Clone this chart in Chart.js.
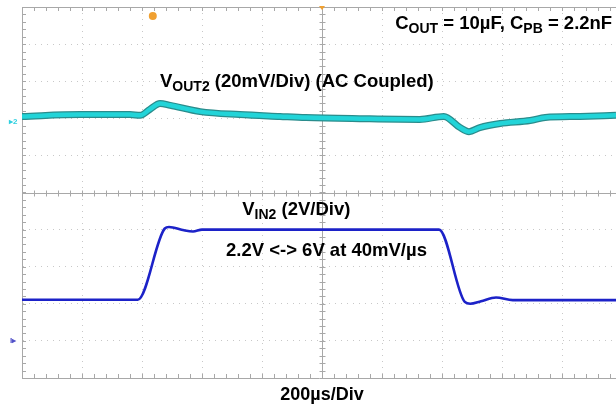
<!DOCTYPE html>
<html>
<head>
<meta charset="utf-8">
<script src="https://cdn.jsdelivr.net/npm/chart.js@4/dist/chart.umd.min.js"></script>
<style>
  html, body { margin: 0; padding: 0; background: #fff; overflow: hidden; }
  #wrap { width: 616px; height: 405px; position: relative; }
</style>
</head>
<body>
<div id="wrap"><canvas id="scope" width="616" height="405"></canvas></div>
<script>
// ──────────────── data (time in divisions, 200µs/div; amplitude in divisions) ────────────────
const voutTime = [0, 0.97, 1.8, 1.97, 2.13, 2.3, 2.47, 2.97, 3.63, 4.3, 4.73, 5.63, 6.63, 7.03, 7.3, 7.45, 7.63, 7.97, 8.47, 8.72, 9.3, 9.9];
const voutDiv  = [2.05, 2.10, 2.10, 2.08, 2.24, 2.40, 2.35, 2.18, 2.10, 2.05, 2.02, 1.99, 1.97, 2.05, 1.75, 1.64, 1.75, 1.86, 1.94, 2.02, 2.05, 2.08];

const vinTime = [0, 1.93, 2.38, 2.45, 2.7, 2.85, 3.0, 6.95, 7.38, 7.47, 7.65, 7.9, 8.18, 9.9];
const vinDiv  = [-2.89, -2.89, -0.97, -0.93, -1.02, -1.05, -1.0, -1.0, -2.95, -3.0, -2.93, -2.83, -2.9, -2.9];

const xGridTicks = [1, 2, 3, 4, 6, 7, 8, 9];
const yGridTicks = [-4, -3, -2, -1, 1, 2, 3, 4];

const labels = [
  { parts: [['C'], ['OUT', 1], [' = 10µF, C'], ['PB', 1], [' = 2.2nF']], t: 6.22, v: 4.42 },
  { parts: [['V'], ['OUT2', 1], [' (20mV/Div) (AC Coupled)']], t: 2.3, v: 2.84 },
  { parts: [['V'], ['IN2', 1], [' (2V/Div)']], t: 3.67, v: -0.6 },
  { parts: [['2.2V <-> 6V at 40mV/µs']], t: 3.4, v: -1.7 },
];

const pts = (xs, ys) => xs.map((x, i) => ({ x, y: ys[i] }));

// ──────────────── scope decorations ────────────────
const FONT = '"Liberation Sans", Arial, sans-serif';

function drawRich(ctx, parts, x, y) {
  parts.forEach(([txt, sub]) => {
    ctx.font = sub ? `bold 14px ${FONT}` : `bold 18.5px ${FONT}`;
    ctx.fillText(txt, x, sub ? y + 4 : y);
    x += ctx.measureText(txt).width;
  });
}

const scopePlugin = {
  id: 'scope',
  beforeDatasetsDraw(chart) {
    const { ctx, chartArea: a, scales: { x, y } } = chart;
    ctx.save();
    ctx.strokeStyle = '#a8a8a8';
    ctx.lineWidth = 1;
    // top border
    ctx.beginPath();
    ctx.moveTo(a.left, a.top + 0.5); ctx.lineTo(a.right, a.top + 0.5);
    ctx.stroke();
    // centre cross
    const cx = Math.round(x.getPixelForValue(5)) + 0.5;
    const cy = Math.round(y.getPixelForValue(0)) + 0.5;
    ctx.beginPath();
    ctx.moveTo(a.left, cy); ctx.lineTo(a.right, cy);
    ctx.moveTo(cx, a.top); ctx.lineTo(cx, a.bottom);
    ctx.stroke();
    // minor ticks every 0.2 div
    ctx.beginPath();
    for (let t = 0.2; t < 10; t += 0.2) {
      const px = Math.round(x.getPixelForValue(t)) + 0.5;
      if (px > a.right) break;
      ctx.moveTo(px, cy - 3); ctx.lineTo(px, cy + 3);
      ctx.moveTo(px, a.top); ctx.lineTo(px, a.top + 4);
      ctx.moveTo(px, a.bottom); ctx.lineTo(px, a.bottom - 4);
    }
    for (let v = -4.8; v < 5; v += 0.2) {
      const py = Math.round(y.getPixelForValue(v)) + 0.5;
      ctx.moveTo(cx - 3, py); ctx.lineTo(cx + 3, py);
      ctx.moveTo(a.left, py); ctx.lineTo(a.left + 4, py);
    }
    ctx.stroke();
    ctx.restore();
  },
  afterDraw(chart) {
    const { ctx, chartArea: a, scales: { x, y } } = chart;
    ctx.save();
    // trigger and reference markers
    ctx.fillStyle = '#f0a030';
    ctx.beginPath();
    ctx.arc(x.getPixelForValue(2.18), a.top + 9, 4, 0, Math.PI * 2);
    ctx.fill();
    const tx = x.getPixelForValue(5);
    ctx.beginPath();
    ctx.moveTo(tx - 3, a.top - 1); ctx.lineTo(tx + 3, a.top - 1); ctx.lineTo(tx, a.top + 3);
    ctx.fill();
    ctx.font = `bold 8px ${FONT}`;
    ctx.textBaseline = 'middle';
    ctx.fillStyle = '#30d0e0';
    ctx.fillText('▸2', a.left - 13, y.getPixelForValue(1.9));
    ctx.fillStyle = '#5050c8';
    ctx.fillText('I▸', a.left - 12, y.getPixelForValue(-4.0));
    // annotations
    ctx.fillStyle = '#000';
    ctx.textBaseline = 'alphabetic';
    labels.forEach(l => drawRich(ctx, l.parts, x.getPixelForValue(l.t), y.getPixelForValue(l.v)));
    ctx.font = `bold 18px ${FONT}`;
    ctx.textAlign = 'center';
    ctx.fillText('200µs/Div', x.getPixelForValue(5), a.bottom + 22);
    ctx.restore();
  }
};

// ──────────────── chart ────────────────
const dotted = { color: '#c8c8c8', drawTicks: false };
const traceOpts = { pointRadius: 0, cubicInterpolationMode: 'monotone' };

new Chart(document.getElementById('scope'), {
  type: 'line',
  data: {
    datasets: [
      { ...traceOpts, data: pts(voutTime, voutDiv), borderColor: '#22d4d8', borderWidth: 4.5, order: 1 },
      { ...traceOpts, data: pts(voutTime, voutDiv), borderColor: '#2a8c8c', borderWidth: 7, order: 2 },
      { ...traceOpts, data: pts(vinTime, vinDiv), borderColor: '#1c22c8', borderWidth: 2.6, order: 0 },
    ]
  },
  options: {
    responsive: false,
    animation: false,
    events: [],
    layout: { padding: { left: 22, top: 7, right: 0, bottom: 27 } },
    plugins: { legend: { display: false }, tooltip: { enabled: false } },
    scales: {
      x: {
        type: 'linear', min: 0, max: 9.9,
        ticks: { display: false },
        afterBuildTicks: s => { s.ticks = xGridTicks.map(value => ({ value })); },
        grid: dotted,
        border: { display: true, color: '#a8a8a8', dash: [1, 5] },
      },
      y: {
        type: 'linear', min: -5, max: 5,
        ticks: { display: false },
        afterBuildTicks: s => { s.ticks = yGridTicks.map(value => ({ value })); },
        grid: dotted,
        border: { display: true, color: '#a8a8a8', dash: [1, 5] },
      }
    }
  },
  plugins: [scopePlugin]
});
</script>
</body>
</html>
